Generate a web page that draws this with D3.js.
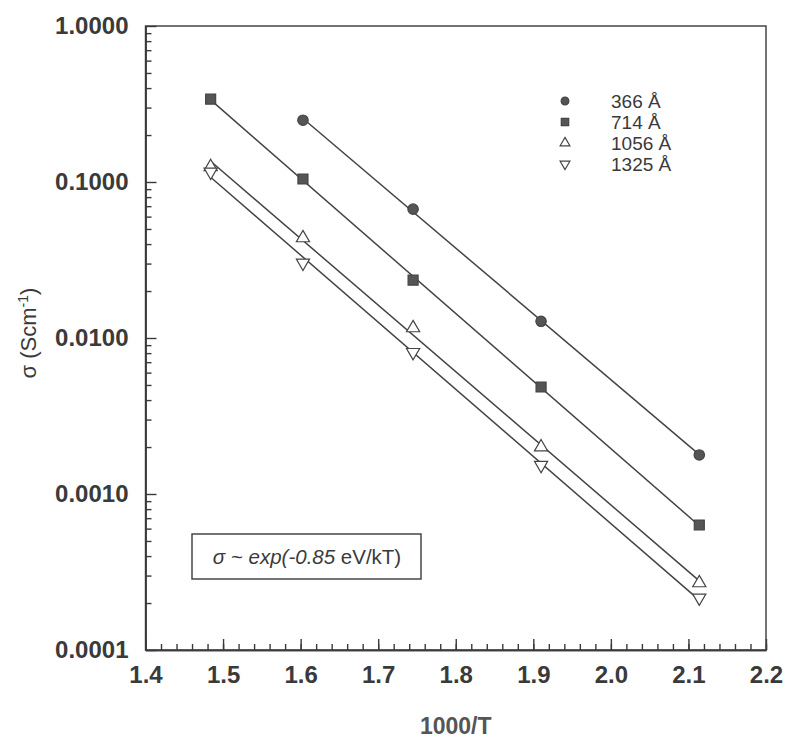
<!DOCTYPE html>
<meta charset="utf-8">
<head>
  <title>Conductivity vs 1000/T</title>
</head>

<style>
body { margin: 0; background: white; }
text { font-family: "Liberation Sans", Arial, sans-serif; fill: #3a3a3a; }
.tick text { font-weight: bold; font-size: 24px; }
.axis path, .axis line { stroke: #3a3a3a; stroke-width: 1.4; }
.fit { fill: none; stroke: #444; stroke-width: 1.5; }
</style>

<body>
  <svg width="791" height="740"></svg>

  <script src="https://cdnjs.cloudflare.com/ajax/libs/d3/7.8.5/d3.min.js"></script>
  <script>
// 1000/T values of the measurements
var invT = [1.484, 1.603, 1.745, 1.910, 2.114];

// series (film thickness) and conductivity values
var seriesNames = ["366 Å", "714 Å", "1056 Å", "1325 Å"];
var sigma366  = [null, 0.249, 0.067, 0.0128, 0.00178];
var sigma714  = [0.340, 0.1045, 0.0235, 0.00485, 0.000633];
var sigma1056 = [0.125, 0.0438, 0.0116, 0.0020, 0.000269];
var sigma1325 = [0.116, 0.0303, 0.0081, 0.00153, 0.000216];

var xTicks = [1.4, 1.5, 1.6, 1.7, 1.8, 1.9, 2.0, 2.1, 2.2];
var yTicks = [0.0001, 0.001, 0.01, 0.1, 1];
var yTickLabels = ["0.0001", "0.0010", "0.0100", "0.1000", "1.0000"];

var svg = d3.select('svg');
var pLeft = 145.5, pRight = 766, pTop = 26, pBottom = 650;

var x = d3.scaleLinear().domain([1.4, 2.2]).range([pLeft, pRight]);
var y = d3.scaleLog().domain([0.0001, 1]).range([pBottom, pTop]);

// frame
svg.append('rect')
  .attr('x', pLeft).attr('y', pTop)
  .attr('width', pRight - pLeft).attr('height', pBottom - pTop)
  .attr('fill', 'none').attr('stroke', '#3a3a3a').attr('stroke-width', 1.4);

// x axis: major + minor ticks pointing inwards
var xMinor = d3.range(0, 41).map(function(i) { return 1.4 + i * 0.02; });
svg.append('g').attr('class', 'axis')
  .attr('transform', 'translate(0,' + pBottom + ')')
  .call(d3.axisBottom(x).tickValues(xMinor).tickSize(-6).tickSizeOuter(0).tickFormat(''));
svg.append('g').attr('class', 'axis')
  .attr('transform', 'translate(0,' + pBottom + ')')
  .call(d3.axisBottom(x).tickValues(xTicks).tickSize(-11).tickSizeOuter(0).tickPadding(16)
    .tickFormat(d3.format('.1f')));

// y axis: decades + minor ticks
var yMinor = [];
[0.0001, 0.001, 0.01, 0.1].forEach(function(d) {
  for (var k = 2; k <= 9; k++) yMinor.push(d * k);
});
svg.append('g').attr('class', 'axis')
  .attr('transform', 'translate(' + pLeft + ',0)')
  .call(d3.axisLeft(y).tickValues(yMinor).tickSize(-6).tickSizeOuter(0).tickFormat(''));
svg.append('g').attr('class', 'axis')
  .attr('transform', 'translate(' + pLeft + ',0)')
  .call(d3.axisLeft(y).tickValues(yTicks).tickSize(-11).tickSizeOuter(0).tickPadding(17)
    .tickFormat(function(d, i) { return yTickLabels[i]; }));

svg.selectAll('.axis .domain').attr('stroke', '#3a3a3a');

// axis titles
svg.append('text')
  .attr('x', (pLeft + pRight) / 2).attr('y', 734)
  .attr('text-anchor', 'middle')
  .style('font-size', '23px')
  .style('font-weight', 'bold')
  .style('fill', '#555')
  .text('1000/T');

var yt = svg.append('text')
  .attr('transform', 'translate(36,333) rotate(-90)')
  .attr('text-anchor', 'middle')
  .style('font-size', '22px');
yt.append('tspan').text('σ (Scm');
yt.append('tspan').attr('dy', -8).style('font-size', '14px').text('-1');
yt.append('tspan').attr('dy', 8).text(')');

// series
var allSeries = [sigma366, sigma714, sigma1056, sigma1325];
var symbols = [d3.symbolCircle, d3.symbolSquare, d3.symbolTriangle, d3.symbolTriangle];
var symSize = [85, 100, 75, 75];
var filled = [true, true, false, false];
var rotate = [0, 0, 0, 180];

allSeries.forEach(function(vals, s) {
  var pts = invT.map(function(t, i) { return [t, vals[i]]; })
    .filter(function(p) { return p[1] != null; });

  // least-squares fit of log10(sigma) against 1000/T
  var n = pts.length;
  var mx = d3.mean(pts, function(p) { return p[0]; });
  var my = d3.mean(pts, function(p) { return Math.log10(p[1]); });
  var sxy = d3.sum(pts, function(p) { return (p[0] - mx) * (Math.log10(p[1]) - my); });
  var sxx = d3.sum(pts, function(p) { return (p[0] - mx) * (p[0] - mx); });
  var slope = sxy / sxx;
  var x0 = pts[0][0], x1 = pts[n - 1][0];
  var fit = [x0, x1].map(function(t) { return [t, Math.pow(10, my + slope * (t - mx))]; });

  svg.append('path')
    .attr('class', 'fit')
    .attr('d', d3.line().x(function(d) { return x(d[0]); }).y(function(d) { return y(d[1]); })(fit));

  svg.selectAll('.m' + s)
    .data(pts)
    .enter()
    .append('path')
    .attr('transform', function(d) { return 'translate(' + x(d[0]) + ',' + y(d[1]) + ') rotate(' + rotate[s] + ')'; })
    .attr('d', d3.symbol().type(symbols[s]).size(symSize[s]))
    .attr('fill', filled[s] ? '#555' : 'white')
    .attr('stroke', '#444')
    .attr('stroke-width', 1.2);
});

// legend
var legend = svg.append('g');
seriesNames.forEach(function(name, s) {
  var ly = 101 + s * 21;
  legend.append('path')
    .attr('transform', 'translate(565,' + ly + ') rotate(' + rotate[s] + ')')
    .attr('d', d3.symbol().type(symbols[s]).size(symSize[s] * 0.55))
    .attr('fill', filled[s] ? '#555' : 'white')
    .attr('stroke', '#444')
    .attr('stroke-width', 1.2);
  legend.append('text')
    .attr('x', 611).attr('y', ly + 7)
    .style('font-size', '19px')
    .text(name);
});

// annotation box
svg.append('rect')
  .attr('x', 192).attr('y', 534)
  .attr('width', 229).attr('height', 45)
  .attr('fill', 'white').attr('stroke', '#3a3a3a').attr('stroke-width', 1.4);
var ann = svg.append('text')
  .attr('x', 307).attr('y', 564)
  .attr('text-anchor', 'middle')
  .style('font-size', '20.5px');
ann.append('tspan').style('font-style', 'italic').text('σ ~ exp(-0.85 ');
ann.append('tspan').text('eV/kT)');
  </script>
</body>
</html>
